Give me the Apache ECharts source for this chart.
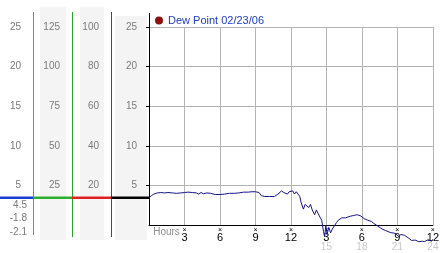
<!DOCTYPE html>
<html>
<head>
<meta charset="utf-8">
<script src="https://cdn.jsdelivr.net/npm/echarts@6/dist/echarts.min.js"></script>
<style>
html,body{margin:0;padding:0;background:#fff;}
#chart{width:442px;height:253px;}
</style>
</head>
<body>
<div id="chart"></div>
<script>
// ---- data ----
var seriesName = 'Dew Point 02/23/06';
var hours = [0,0.2,0.4,0.7,1.0,1.3,1.6,2.0,2.3,2.7,3.0,3.3,3.7,4.0,4.2,4.4,4.6,4.9,5.2,5.6,6.0,6.4,6.8,7.2,7.6,8.0,8.4,8.7,9.0,9.3,9.5,9.8,10.2,10.6,10.9,11.2,11.4,11.55,11.7,11.85,12.0,12.15,12.3,12.45,12.6,12.75,12.85,13.05,13.2,13.35,13.5,13.65,13.8,13.9,14.0,14.15,14.3,14.45,14.6,14.75,14.85,14.95,15.05,15.2,15.35,15.5,15.65,15.85,16.0,16.3,16.6,17.0,17.3,17.6,17.9,18.2,18.5,18.8,19.0,19.3,19.7,20.0,20.4,20.8,21.1,21.3,21.6,21.9,22.2,22.5,22.8,23.1,23.3,23.6,23.9,24.0];
var dewPoint = [3.45,3.7,3.9,4.05,4.1,4.05,4.1,4.05,4.0,4.05,4.1,4.15,4.1,4.05,3.9,4.1,3.95,4.05,4.0,3.85,3.85,3.9,4.0,4.0,4.05,4.15,4.15,4.2,4.2,4.1,3.7,3.6,3.6,3.6,3.9,4.3,4.1,4.25,3.9,4.2,4.05,4.3,3.9,4.2,4.35,3.6,2.9,2.0,2.6,2.85,2.2,2.6,1.9,2.0,1.3,1.9,1.7,1.0,0.6,-0.8,-1.5,0.0,-1.2,-0.3,-1.0,-0.5,-0.6,0.3,0.6,0.9,0.9,1.1,1.2,1.3,1.15,0.8,0.6,0.45,0.2,-0.1,-0.5,-0.7,-0.95,-1.05,-1.45,-1.2,-1.3,-1.6,-1.95,-1.9,-2.1,-2.05,-2.1,-1.85,-2.05,-1.8];
var xTickLabels = ['Hours','3','6','9','12','3','6','9','12'];
var xHourLabels = ['','','','','','15','18','21','24'];
var statLabels = ['4.5','-1.8','-2.1'];
// left scale columns (max value of each column, label step)
var scaleMain = {max:25, step:5};
var scaleRed = {max:100, step:20};
var scaleGreen = {max:125, step:25};
var scaleTeal = {max:25, step:5};

var lineData = hours.map(function(h,i){return [h, dewPoint[i]];});
var FONT = 'Liberation Sans, Arial, sans-serif';
var GREY = '#7a7a7a';

var chart = echarts.init(document.getElementById('chart'), null, {renderer:'canvas'});

function sideAxis(sc, offset){
  return {
    type:'value', position:'left', offset:offset, min:0, max:sc.max, interval:sc.step,
    axisLine:{show:false}, axisTick:{show:false}, splitLine:{show:false},
    axisLabel:{show:true, showMinLabel:false, margin:12, color:GREY, fontSize:10, fontFamily:FONT}
  };
}

var option = {
  backgroundColor:'#fff',
  animation:false,
  grid:{left:149, right:3, top:27, bottom:28, containLabel:false},
  legend:{
    show:true, left:155, top:15, icon:'circle', itemWidth:8, itemHeight:8,
    data:[{name:seriesName, itemStyle:{color:'#8b1010'}}],
    textStyle:{color:'#2040c0', fontSize:11, fontFamily:FONT}, padding:0
  },
  xAxis:{
    type:'value', min:0, max:24, interval:3,
    axisLine:{show:true, lineStyle:{color:'#000', width:1}},
    axisTick:{show:false},
    splitLine:{show:true, lineStyle:{color:'#b4b4b4', width:1}},
    axisLabel:{
      show:true, margin:3, color:'#000', fontFamily:FONT,
      formatter:function(v){
        var i = Math.round(v/3);
        if(i===0) return '{h|'+xTickLabels[0]+'}';
        var s = '{m|\u00d7}\n{n|'+xTickLabels[i]+'}';
        if(xHourLabels[i]) s += '\n{g|'+xHourLabels[i]+'}';
        return s;
      },
      rich:{
        h:{fontSize:10, color:'#909090', fontFamily:FONT, lineHeight:9, padding:[0,0,0,35]},
        m:{fontSize:7, color:'#000', fontFamily:FONT, lineHeight:5},
        n:{fontSize:11, color:'#000', fontFamily:FONT, lineHeight:10},
        g:{fontSize:10, color:'#c8c8c8', fontFamily:FONT, lineHeight:9}
      }
    }
  },
  yAxis:[
    {
      type:'value', position:'left', min:0, max:scaleMain.max, interval:scaleMain.step,
      axisLine:{show:true, onZero:false, lineStyle:{color:'#000', width:1}},
      axisTick:{show:true, inside:false, length:3, lineStyle:{color:'#000'}},
      splitLine:{show:true, lineStyle:{color:'#b4b4b4', width:1}},
      axisLabel:{show:true, showMinLabel:false, margin:12, color:GREY, fontSize:10, fontFamily:FONT}
    },
    sideAxis(scaleRed, 38),
    sideAxis(scaleGreen, 77),
    sideAxis(scaleTeal, 116)
  ],
  series:[{
    name:seriesName, type:'line', data:lineData, showSymbol:false, symbol:'none',
    clip:false, lineStyle:{color:'#14148c', width:1}, itemStyle:{color:'#14148c'}
  }]
};
chart.setOption(option);

// decorative left panel drawn from the scales
var yStart = chart.convertToPixel({yAxisIndex:0}, dewPoint[0]);
var yTop = chart.convertToPixel({yAxisIndex:0}, scaleMain.max);
var yZero = chart.convertToPixel({yAxisIndex:0}, 0);
function vline(x,y1,y2,c){return {type:'line', z:5, shape:{x1:x,y1:y1,x2:x,y2:y2}, style:{stroke:c, lineWidth:1}};}
function hline(x1,x2,y,c){return {type:'line', z:6, shape:{x1:x1,y1:y,x2:x2,y2:y}, style:{stroke:c, lineWidth:2.5}};}
function rect(x,y,w,h){return {type:'rect', z:-5, shape:{x:x,y:y,width:w,height:h}, style:{fill:'#f4f4f4'}};}
var g = [
  rect(40,7,26,233), rect(80,7,24,233), rect(115,16,32,224),
  vline(33.5,12,235,'#2a9fd0'), vline(72.5,12,237,'#2ca02c'), vline(111.5,12,237,'#b02020'),
  vline(149.5,13,yTop,'#000'),
  hline(0,33,yStart,'#1a3fd0'), hline(33,72,yStart,'#2cb02c'), hline(72,111,yStart,'#e02020'), hline(111,149,yStart,'#000')
];
statLabels.forEach(function(t,i){
  g.push({type:'text', z:6, x:27, y:205+i*13.5, style:{text:t, fill:GREY, fontSize:10, fontFamily:FONT, align:'right', verticalAlign:'middle'}});
});
chart.setOption({graphic:g});
</script>
</body>
</html>
